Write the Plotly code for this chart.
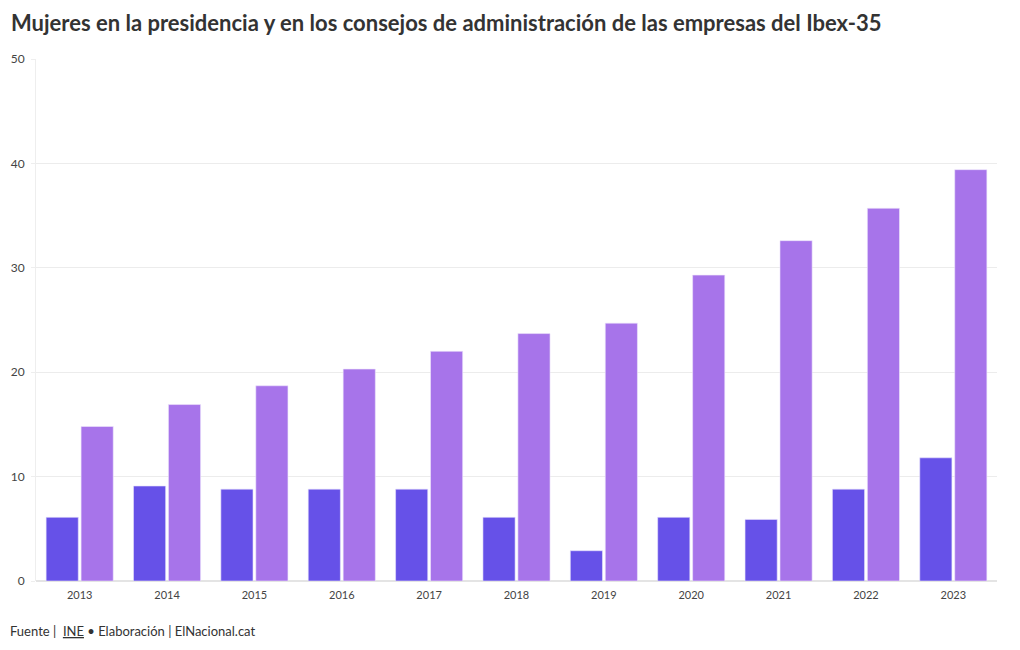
import plotly.graph_objects as go

years = ["2013", "2014", "2015", "2016", "2017", "2018", "2019", "2020", "2021", "2022", "2023"]
presidencia = [6.1, 9.1, 8.8, 8.8, 8.8, 6.1, 2.9, 6.1, 5.9, 8.8, 11.8]
consejos = [14.8, 16.9, 18.7, 20.3, 22.0, 23.7, 24.7, 29.3, 32.6, 35.7, 39.4]

FONT = "Lato"

fig = go.Figure()
fig.add_trace(go.Bar(x=years, y=presidencia, name="Presidencia",
                     marker=dict(color="#6651e8", line=dict(color="#e8e2fb", width=0.6))))
fig.add_trace(go.Bar(x=years, y=consejos, name="Consejos de administración",
                     marker=dict(color="#a774ea", line=dict(color="#efe6fb", width=0.6))))

fig.update_layout(
    width=1012, height=642,
    margin=dict(l=28, r=23, t=51, b=69),
    paper_bgcolor="white", plot_bgcolor="white",
    barmode="group", bargap=0.2, bargroupgap=0.08,
    showlegend=False,
    font=dict(family=FONT, color="#444"),
    title=dict(text="<b>Mujeres en la presidencia y en los consejos de administración de las empresas del Ibex-35</b>",
               x=0.003, xref="container", xanchor="left", y=0.9875, yanchor="top",
               font=dict(family=FONT, size=22, color="#333")),
    xaxis=dict(type="category", range=[-0.5, 10.5], showgrid=False, automargin=False,
               showline=False, ticks="", ticklabelstandoff=6,
               tickfont=dict(size=11, color="#444")),
    yaxis=dict(range=[0, 50], dtick=10, showgrid=True, gridcolor="#ececec", automargin=False,
               zeroline=True, zerolinecolor="#e4e4e4", showline=True, linecolor="#eeeeee",
               ticks="outside", ticklen=4, tickcolor="#eeeeee", ticklabelstandoff=4,
               tickfont=dict(size=12, color="#444")),
    annotations=[dict(text="Fuente |  <u>INE</u> • Elaboración | ElNacional.cat",
                      x=0, xref="paper", xshift=-28, y=-0.0958, yref="paper",
                      xanchor="left", yanchor="middle", showarrow=False,
                      font=dict(family=FONT, size=13, color="#333"))],
)

fig.write_html("out.html")
